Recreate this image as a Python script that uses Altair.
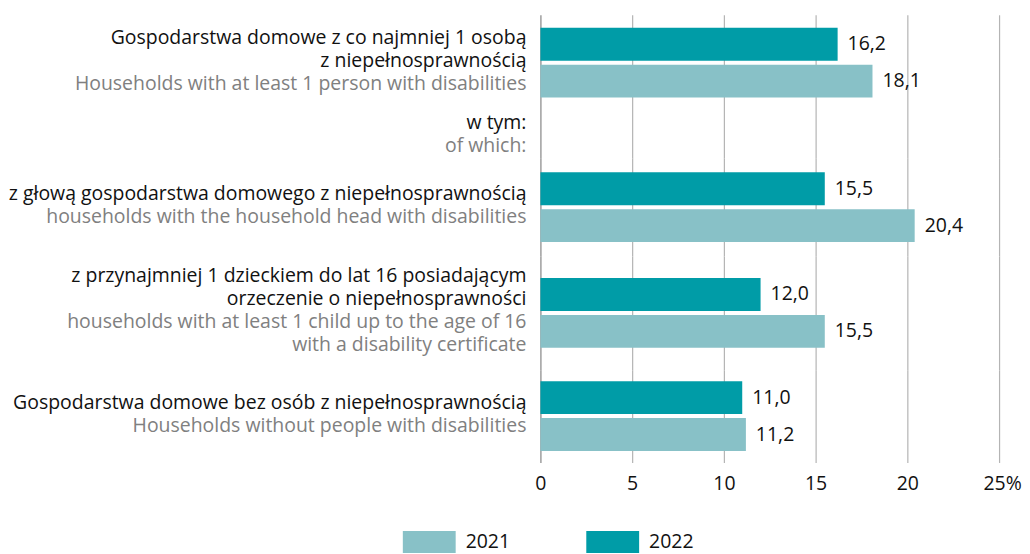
import altair as alt
import pandas as pd

# ---- data -------------------------------------------------------------
groups_pl = [
    ["Gospodarstwa domowe z co najmniej 1 osobą", "z niepełnosprawnością"],
    ["z głową gospodarstwa domowego z niepełnosprawnością"],
    ["z przynajmniej 1 dzieckiem do lat 16 posiadającym", "orzeczenie o niepełnosprawności"],
    ["Gospodarstwa domowe bez osób z niepełnosprawnością"],
]
groups_en = [
    ["Households with at least 1 person with disabilities"],
    ["households with the household head with disabilities"],
    ["households with at least 1 child up to the age of 16", "with a disability certificate"],
    ["Households without people with disabilities"],
]
subhead_pl = ["w tym:"]
subhead_en = ["of which:"]
years = ["2021", "2022"]
values_2021 = [18.1, 20.4, 15.5, 11.2]
values_2022 = [16.2, 15.5, 12.0, 11.0]
x_ticks = [0, 5, 10, 15, 20, 25]

# ---- style ------------------------------------------------------------
FONT = "Open Sans"
FS = 19.5
LH = 23
STEP = 37
BAR_H = 33
W = 460
C21 = "#88c1c7"
C22 = "#009ca7"
BLACK = "#111111"
GREY = "#808080"
# panel heights: group0, subhead, group1, group2, group3
H = [96, 48, 98, 114, 93]


def fmt(v):
    return f"{v:.1f}".replace(".", ",")


def x_axis(bottom):
    return alt.Axis(
        values=x_ticks, grid=True,
        gridColor={"condition": {"test": "datum.value === 0", "value": "#858585"}, "value": "#b4b4b4"},
        gridWidth=1.2, domain=False, ticks=False, labels=bottom, title=None,
        labelFontSize=FS, labelFont=FONT, labelColor=BLACK, labelPadding=12,
        labelFlush=False, labelBound=False, labelOverlap=False,
        labelExpr="datum.value === 25 ? '25%' : datum.label",
        labelOffset={"condition": {"test": "datum.value === 25", "value": 3}, "value": 0},
    )


legend = alt.Legend(
    title=None, orient="none", legendX=-138, legendY=502, direction="horizontal",
    symbolType="M-1,-0.415H1V0.415H-1Z", symbolSize=2809, symbolStrokeWidth=0,
    symbolOpacity=1, labelFontSize=FS, labelFont=FONT, labelColor=BLACK,
    labelOffset=10, columnPadding=76, padding=0,
)

xscale = alt.Scale(domain=[0, 25], nice=False)


def text_layers(pl, en, shift=-2, x_enc=None):
    p, e = len(pl), len(en)
    n = p + e
    first = -(n - 1) * LH / 2 + shift
    src = pd.DataFrame({"k": [0]})
    t1 = alt.Chart(src).mark_text(
        text=pl, align="right", baseline="middle", dx=-14, dy=first,
        lineHeight=LH, fontSize=FS, font=FONT, color=BLACK,
    ).encode(x=x_enc if x_enc is not None else alt.datum(0))
    t2 = alt.Chart(src).mark_text(
        text=en, align="right", baseline="middle", dx=-14, dy=first + p * LH,
        lineHeight=LH, fontSize=FS, font=FONT, color=GREY,
    ).encode(x=alt.datum(0))
    return t1, t2


def bar_panel(i, h, bottom):
    df = pd.DataFrame({
        "year": ["2022", "2021"],
        "value": [values_2022[i], values_2021[i]],
        "label": [fmt(values_2022[i]), fmt(values_2021[i])],
    })
    po = (h / STEP - 2) / 2
    y = alt.Y("year:N", scale=alt.Scale(domain=["2022", "2021"], paddingInner=0, paddingOuter=po), axis=None)
    bars = alt.Chart(df).mark_bar(height=BAR_H).encode(
        x=alt.X("value:Q", scale=xscale, axis=x_axis(bottom)),
        y=y,
        color=alt.Color("year:N", scale=alt.Scale(domain=years, range=[C21, C22]), legend=legend),
    )
    vals = alt.Chart(df).mark_text(
        align="left", baseline="middle", dx=10, fontSize=FS, font=FONT, color=BLACK
    ).encode(x="value:Q", y=y, text="label:N")
    t1, t2 = text_layers(groups_pl[i], groups_en[i])
    return alt.layer(bars, vals, t1, t2).properties(width=W, height=h)


def sub_panel(h):
    t1, t2 = text_layers(subhead_pl, subhead_en, shift=0,
                         x_enc=alt.XDatum(0, scale=xscale, axis=x_axis(False)))
    return alt.layer(t1, t2).properties(width=W, height=h)


panels = [
    bar_panel(0, H[0], False),
    sub_panel(H[1]),
    bar_panel(1, H[2], False),
    bar_panel(2, H[3], False),
    bar_panel(3, H[4], True),
]

chart = (
    alt.vconcat(*panels, spacing=0)
    .resolve_scale(x="shared", y="independent", color="shared")
    .properties(padding={"left": 0, "top": 6, "right": 0, "bottom": 0})
    .configure_view(stroke=None)
)

chart.save("out.html", embed_options={"renderer": "svg", "actions": False})
